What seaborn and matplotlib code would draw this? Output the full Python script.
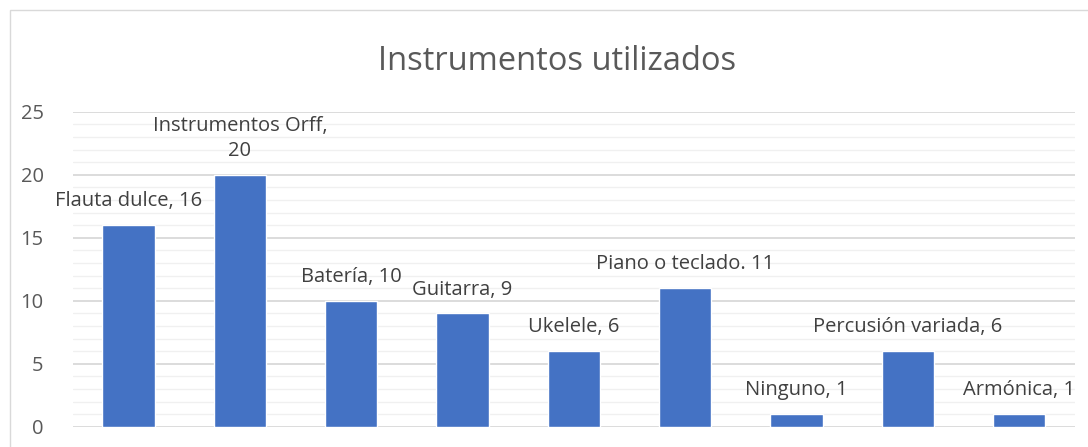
import matplotlib
matplotlib.use("Agg")
import matplotlib.pyplot as plt
import seaborn as sns
import pandas as pd
from matplotlib.ticker import MultipleLocator
from matplotlib.patches import Rectangle

instrumentos = ["Flauta dulce", "Instrumentos Orff", "Batería", "Guitarra", "Ukelele",
                "Piano o teclado", "Ninguno", "Percusión variada", "Armónica"]
cantidad = [16, 20, 10, 9, 6, 11, 1, 6, 1]
etiquetas = ["Flauta dulce, 16", "Instrumentos Orff,\n20", "Batería, 10", "Guitarra, 9",
             "Ukelele, 6", "Piano o teclado. 11", "Ninguno, 1", "Percusión variada, 6",
             "Armónica, 1"]

df = pd.DataFrame({"instrumento": instrumentos, "cantidad": cantidad})

sns.set_theme(style="white")
plt.rcParams["font.family"] = ["Open Sans", "DejaVu Sans"]

fig, ax = plt.subplots(figsize=(10.88, 4.47), dpi=100)
fig.subplots_adjust(left=0.067, right=0.988, top=0.75, bottom=0.045)

sns.barplot(data=df, x="instrumento", y="cantidad", color="#4472C4", width=0.47,
            saturation=1, ax=ax, zorder=3)

ax.set_ylim(0, 25)
ax.yaxis.set_major_locator(MultipleLocator(5))
ax.yaxis.set_minor_locator(MultipleLocator(1))
ax.grid(which="major", axis="y", color="#D9D9D9", linewidth=1.3, zorder=0)
ax.grid(which="minor", axis="y", color="#F0F0F0", linewidth=1.0, zorder=0)
ax.set_axisbelow(True)
for s in ax.spines.values():
    s.set_visible(False)
ax.set_xticks([])
ax.set_xlabel("")
ax.set_ylabel("")
ax.tick_params(axis="y", which="both", length=0, labelsize=14.5, labelcolor="#595959", pad=21)

for i, (v, lab) in enumerate(zip(cantidad, etiquetas)):
    y = v + 1.1 if "\n" not in lab else v + 1.1
    ax.text(i, y, lab, ha="center", va="bottom", fontsize=14.5, color="#404040",
            linespacing=1.35)

fig.suptitle("Instrumentos utilizados", fontsize=23.5, color="#595959", x=0.512, y=0.9)

fig.patches.append(Rectangle((0.009, -0.05), 1.2, 1.027, transform=fig.transFigure,
                             fill=False, edgecolor="#D9D9D9", linewidth=1))

fig.savefig("out.png", dpi=100)
